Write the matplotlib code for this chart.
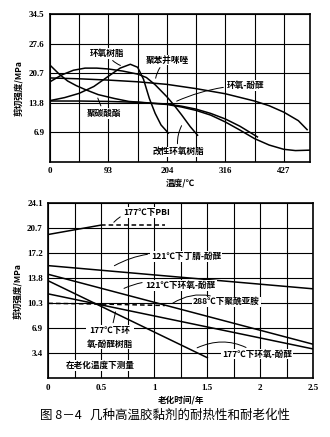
import numpy as np
import matplotlib.pyplot as plt

plt.rcParams['font.family'] = ['Noto Sans CJK SC', 'DejaVu Sans']

#==============================================================================
# Datos panel superior: resistencia frente a temperatura
# (eje x en unidades de rejilla, cada 2 unidades una etiqueta en grados C)
#==============================================================================
temp_ticks = [0, 2, 4, 6, 8]
temp_labels = ['0', '93', '204', '316', '427']
shear_ticks_top = [6.9, 13.8, 20.7, 27.6, 34.5]

pbi_u = [0, 1, 2, 3, 4, 5, 6, 7, 7.5, 8, 8.5, 8.8]
pbi_v = [19.6, 19.4, 19.1, 18.7, 18.1, 17.1, 15.9, 14.2, 13.1, 11.6, 9.6, 7.5]

epoxy_u = [0, 0.5, 1, 1.5, 2, 2.4, 2.75, 3.0, 3.2, 3.4, 3.6, 3.8, 4.05]
epoxy_v = [14.3, 15.0, 16.0, 17.6, 20.0, 21.9, 22.8, 22.1, 19.3, 14.8, 11.3, 8.6, 6.7]

pc_u = [0, 0.3, 0.6, 0.9, 1.2, 1.65, 2.2, 2.7, 3.5, 4, 4.5, 5, 5.5, 6, 6.5, 7.1]
pc_v = [22.6, 20.6, 18.9, 17.8, 16.9, 15.7, 14.8, 14.1, 13.7, 13.5, 13.0, 12.3, 11.3, 10.0, 8.3, 5.8]

mod_u = [0, 0.4, 0.8, 1.2, 1.6, 2.0, 2.5, 3.0, 3.3, 3.6, 4.0, 4.25, 4.5, 4.8, 5.05]
mod_v = [18.7, 20.3, 21.4, 21.9, 21.9, 21.7, 21.2, 20.5, 19.7, 18.0, 15.2, 13.2, 11.0, 8.2, 6.2]

ep_u = [0, 1, 2, 3, 4, 4.5, 5, 5.5, 6, 6.5, 7, 7.5, 8, 8.4, 8.9]
ep_v = [14.2, 14.2, 14.1, 13.9, 13.4, 12.8, 12.0, 10.9, 9.3, 7.4, 5.4, 3.9, 2.9, 2.6, 2.7]

#==============================================================================
# Datos panel inferior: resistencia frente a tiempo de envejecimiento
#==============================================================================
age_ticks = [0, 0.5, 1, 1.5, 2, 2.5]
age_labels = ['0', '0.5', '1', '1.5', '2', '2.5']
shear_ticks_bot = [3.4, 6.9, 10.3, 13.8, 17.2, 20.7, 24.1]

pbi177_t = [0, 0.5]
pbi177_v = [19.8, 21.1]
pbi177_dash_t = [0.5, 1.1]
pbi177_dash_v = [21.1, 21.1]

nbr121_t = [0, 2.5]
nbr121_v = [15.5, 12.3]

ep121_t = [0, 2.5]
ep121_v = [14.3, 4.65]

ep177_t = [0, 1.5]
ep177_v = [13.4, 2.8]

epr177_t = [0, 2.5]
epr177_v = [11.6, 4.0]

pi288_t = [0, 0.5, 1.1]
pi288_v = [10.3, 10.2, 10.0]

#==============================================================================
# Figura
#==============================================================================
fig = plt.figure(figsize=(3.3, 4.37), dpi=100)
ax1 = fig.add_axes([0.1515, 0.630, 0.788, 0.3373])
ax2 = fig.add_axes([0.1465, 0.135, 0.803, 0.3998])

tick_font = dict(family='Liberation Serif', weight='bold', size=6.5)
cn = dict(family=['Noto Sans CJK SC', 'DejaVu Sans'], weight='bold', size=6.2)
box = dict(boxstyle='square,pad=0.1', fc='white', ec='none')
lw = 1.1
lead = dict(arrowstyle='-', color='k', lw=0.7)

# ---- panel superior
for u, v in [(pbi_u, pbi_v), (epoxy_u, epoxy_v), (pc_u, pc_v),
             (mod_u, mod_v), (ep_u, ep_v)]:
    ax1.plot(u, v, color='k', linewidth=lw)

ax1.set_xlim(0, 8.9)
ax1.set_ylim(0, 34.5)
ax1.set_xticks(temp_ticks)
ax1.set_xticklabels(temp_labels, **tick_font)
ax1.set_xticks(np.arange(1, 9, 2), minor=True)
ax1.set_yticks(shear_ticks_top)
ax1.set_yticklabels([str(s) for s in shear_ticks_top], **tick_font)
ax1.grid(True, which='both', color='k', linewidth=0.8)
ax1.tick_params(which='both', length=0, pad=4)
ax1.set_xlabel('温度/℃', labelpad=2, **cn)
ax1.set_ylabel('剪切强度/MPa', labelpad=3, **cn)

ax1.annotate('环氧树脂', xy=(2.5, 22.3), xytext=(1.95, 25.4), ha='center', va='center', bbox=box,
             arrowprops=dict(connectionstyle='arc3,rad=0.2', **lead), **cn)
ax1.annotate('聚苯并咪唑', xy=(3.6, 18.9), xytext=(4.0, 23.8), ha='center', va='center', bbox=box,
             arrowprops=dict(connectionstyle='arc3,rad=0.2', **lead), **cn)
ax1.annotate('环氧-酚醛', xy=(4.25, 13.9), xytext=(6.7, 17.9), ha='center', va='center', bbox=box,
             arrowprops=dict(connectionstyle='arc3,rad=0.1', **lead), **cn)
ax1.annotate('聚碳酸酯', xy=(1.6, 15.5), xytext=(1.85, 11.2), ha='center', va='center', bbox=box,
             arrowprops=dict(connectionstyle='arc3,rad=0', **lead), **cn)
ax1.annotate('改性环氧树脂', xy=(4.55, 9.0), xytext=(4.4, 2.3), ha='center', va='center', bbox=box,
             arrowprops=dict(connectionstyle='arc3,rad=-0.2', **lead), **cn)

# ---- panel inferior
ax2.plot(pbi177_t, pbi177_v, color='k', linewidth=lw)
ax2.plot(pbi177_dash_t, pbi177_dash_v, color='k', linewidth=lw, linestyle='--', dashes=(3, 2))
ax2.plot(nbr121_t, nbr121_v, color='k', linewidth=lw)
ax2.plot(ep121_t, ep121_v, color='k', linewidth=lw)
ax2.plot(ep177_t, ep177_v, color='k', linewidth=lw)
ax2.plot(epr177_t, epr177_v, color='k', linewidth=lw)
ax2.plot(pi288_t, pi288_v, color='k', linewidth=lw, linestyle='--', dashes=(3, 2))

ax2.set_xlim(0, 2.5)
ax2.set_ylim(0, 24.1)
ax2.set_xticks(age_ticks)
ax2.set_xticklabels(age_labels, **tick_font)
ax2.set_xticks(np.arange(0.25, 2.5, 0.5), minor=True)
ax2.set_yticks(shear_ticks_bot)
ax2.set_yticklabels([str(s) for s in shear_ticks_bot], **tick_font)
ax2.grid(True, which='both', color='k', linewidth=0.8)
ax2.tick_params(which='both', length=0, pad=4)
ax2.set_xlabel('老化时间/年', labelpad=3, **cn)
ax2.set_ylabel('剪切强度/MPa', labelpad=3, **cn)

ax2.annotate('177℃下PBI', xy=(0.6, 21.2), xytext=(0.93, 22.8), ha='center', va='center', bbox=box,
             arrowprops=dict(connectionstyle='arc3,rad=0.3', **lead), **cn)
ax2.annotate('121℃下丁腈-酚醛', xy=(0.6, 15.3), xytext=(1.3, 16.8), ha='center', va='center', bbox=box,
             arrowprops=dict(connectionstyle='arc3,rad=0.2', **lead), **cn)
ax2.annotate('121℃下环氧-酚醛', xy=(0.69, 12.2), xytext=(1.25, 12.8), ha='center', va='center', bbox=box,
             arrowprops=dict(connectionstyle='arc3,rad=0.2', **lead), **cn)
ax2.annotate('288℃下聚酰亚胺', xy=(1.15, 10.1), xytext=(1.68, 10.5), ha='center', va='center', bbox=box,
             arrowprops=dict(connectionstyle='arc3,rad=0.3', **lead), **cn)
ax2.annotate('177℃下环\n氧-酚醛树脂', xy=(0.64, 9.5), xytext=(0.58, 5.6), ha='center', va='center',
             linespacing=1.6, bbox=box, arrowprops=dict(connectionstyle='arc3,rad=0', **lead), **cn)
ax2.annotate('177℃下环氧-酚醛', xy=(1.38, 4.0), xytext=(1.97, 3.3), ha='center', va='center', bbox=box,
             arrowprops=dict(connectionstyle='arc3,rad=0.3', **lead), **cn)
ax2.text(0.49, 1.7, '在老化温度下测量', ha='center', va='center', bbox=box, **cn)

for ax in (ax1, ax2):
    for s in ax.spines.values():
        s.set_linewidth(1.2)

fig.text(0.5, 0.05, '图 8－4   几种高温胶黏剂的耐热性和耐老化性', ha='center', va='center',
         family=['Noto Sans CJK SC', 'DejaVu Sans'], size=9)

plt.savefig('out.png', dpi=100)
